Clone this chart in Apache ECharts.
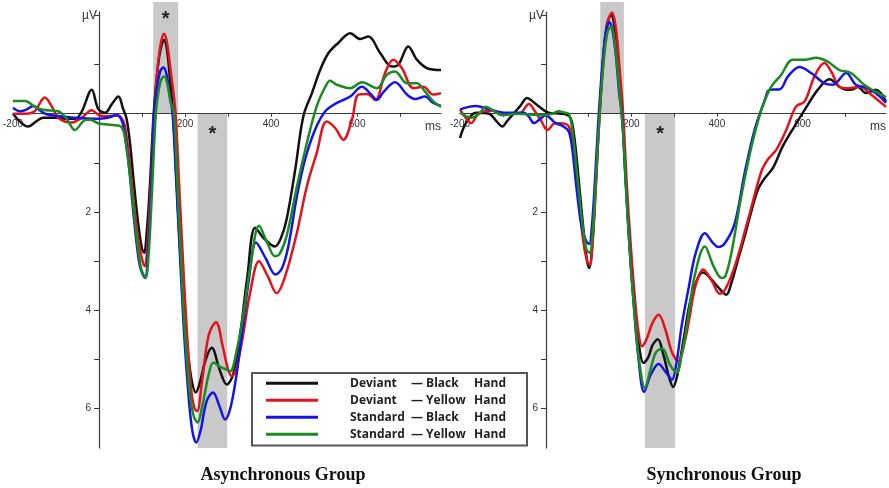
<!DOCTYPE html>
<html><head><meta charset="utf-8">
<script src="https://cdn.jsdelivr.net/npm/echarts@6/dist/echarts.min.js"></script>
<style>html,body{margin:0;padding:0;background:#fff}#c{width:889px;height:488px}</style>
</head><body><div id="c"></div>
<script>
// ---- data (ms, µV) ----
const seriesNames = ['Deviant — Black Hand', 'Deviant — Yellow Hand', 'Standard — Black Hand', 'Standard — Yellow Hand'];
const panelTitles = ['Asynchronous Group', 'Synchronous Group'];
const xTickValues = [-100, 0, 100, 200, 300, 400, 500, 600, 700];
const xLabelValues = [-200, 200, 400, 600];
const yTickValues = [-2, -1, 1, 2, 3, 4, 5, 6];
const yLabelValues = [2, 4, 6];

const asyncDevBlack = [[-200,0.0],[-185,0.15],[-165,0.26],[-145,0.15],[-130,0.08],[-100,0.08],[-75,0.1],[-55,0.1],[-40,-0.05],[-17,-0.49],[-2,-0.1],[14,-0.02],[30,-0.2],[45,-0.35],[56,-0.1],[64,0.1],[72,0.6],[82,1.5],[92,2.3],[100,2.75],[105,2.83],[111,2.4],[118,1.5],[127,0.0],[136,-0.9],[144,-1.35],[151,-1.5],[158,-1.3],[165,-0.7],[172,0.0],[180,1.3],[188,2.7],[198,4.0],[208,4.95],[216,5.45],[225,5.67],[235,5.45],[248,5.0],[262,4.76],[280,5.2],[297,5.51],[312,5.3],[328,4.5],[345,3.3],[363,2.32],[385,2.55],[409,2.7],[422,2.55],[436,2.15],[456,1.14],[475,0.05],[495,-0.42],[514,-0.89],[533,-1.23],[556,-1.44],[584,-1.64],[607,-1.52],[626,-1.57],[654,-1.23],[681,-0.96],[696,-1.0],[719,-1.37],[739,-1.1],[762,-0.93],[795,-0.89]];
const asyncDevYellow = [[-200,0.0],[-170,0.0],[-150,-0.05],[-126,-0.33],[-110,-0.15],[-95,0.08],[-64,0.18],[-40,0.08],[-17,-0.07],[0,0.03],[20,0.05],[41,0.03],[52,0.08],[60,0.25],[70,0.9],[82,1.9],[94,2.7],[106,3.1],[113,2.6],[120,1.5],[128,0.0],[137,-1.0],[144,-1.45],[151,-1.63],[158,-1.45],[166,-0.9],[172,-0.5],[178,0.0],[186,1.4],[194,2.8],[204,4.4],[214,5.6],[222,6.0],[228,6.05],[240,5.4],[255,4.5],[272,4.24],[288,4.75],[300,5.2],[309,5.34],[320,5.15],[335,4.5],[350,3.7],[372,3.0],[392,3.3],[413,3.65],[433,3.3],[460,2.42],[483,1.48],[506,0.8],[529,0.16],[549,0.29],[568,0.53],[588,0.12],[603,-0.39],[623,-0.4],[642,-0.28],[665,-0.83],[684,-1.1],[704,-0.93],[731,-0.52],[754,-0.55],[777,-0.39],[795,-0.42]];
const asyncStdBlack = [[-200,-0.12],[-184,-0.05],[-170,-0.08],[-153,-0.16],[-135,-0.05],[-122,0.01],[-100,0.04],[-57,0.08],[-2,0.1],[20,0.08],[41,0.03],[52,0.12],[60,0.4],[70,1.1],[82,2.2],[95,3.1],[107,3.34],[114,2.8],[121,1.6],[128,0.0],[136,-0.6],[143,-0.88],[150,-0.94],[157,-0.8],[164,-0.4],[171,0.0],[179,1.3],[186,2.5],[196,4.2],[206,5.5],[216,6.4],[226,6.69],[236,6.45],[250,5.85],[265,5.67],[280,5.95],[293,6.22],[305,6.0],[318,5.4],[332,4.5],[348,3.4],[365,2.62],[388,2.95],[410,3.27],[425,3.15],[440,2.7],[460,1.68],[479,0.93],[502,0.33],[526,-0.05],[553,-0.22],[584,-0.35],[611,-0.55],[632,-0.4],[646,-0.28],[662,-0.45],[688,-0.64],[716,-0.39],[735,-0.3],[758,-0.35],[777,-0.22],[795,-0.16]];
const asyncStdYellow = [[-200,-0.26],[-172,-0.26],[-150,-0.15],[-130,-0.08],[-95,-0.05],[-75,0.11],[-56,0.33],[-33,0.13],[-21,0.12],[0,0.2],[33,0.23],[53,0.28],[62,0.6],[74,1.4],[86,2.4],[98,3.15],[108,3.34],[115,2.9],[123,1.6],[132,0.0],[139,-0.5],[146,-0.72],[152,-0.76],[159,-0.6],[166,-0.25],[174,0.0],[181,1.2],[188,2.5],[198,4.2],[210,5.6],[220,6.15],[229,6.28],[240,5.95],[255,5.3],[266,5.06],[282,5.15],[295,5.2],[305,5.24],[318,4.9],[335,4.1],[352,3.1],[372,2.28],[390,2.6],[409,2.9],[420,2.85],[436,2.49],[460,1.48],[483,0.6],[506,-0.15],[526,-0.55],[537,-0.67],[553,-0.59],[584,-0.52],[611,-0.64],[646,-0.52],[669,-0.79],[688,-0.86],[716,-0.62],[739,-0.62],[758,-0.45],[777,-0.25],[795,-0.14]];

const syncDevBlack = [[-200,0.49],[-186,0.19],[-163,-0.02],[-132,0.0],[-115,0.15],[-101,0.26],[-90,0.15],[-78,0.03],[-60,-0.15],[-43,-0.32],[-30,-0.25],[-16,-0.15],[7,-0.02],[38,0.0],[55,0.05],[62,0.2],[70,0.7],[80,1.6],[90,2.5],[97,3.0],[102,3.14],[108,2.8],[115,1.8],[122,0.6],[128,-0.3],[136,-1.3],[144,-1.85],[153,-2.01],[162,-1.7],[170,-0.9],[179,0.0],[187,1.3],[195,2.5],[205,3.7],[215,4.5],[229,5.07],[240,4.95],[250,4.7],[262,4.59],[275,4.9],[288,5.35],[298,5.56],[308,5.3],[322,4.6],[338,3.8],[355,3.35],[368,3.23],[385,3.35],[405,3.55],[422,3.68],[434,3.44],[450,2.95],[465,2.49],[480,2.0],[496,1.54],[512,1.31],[531,1.1],[554,0.66],[581,0.26],[605,-0.08],[636,-0.49],[663,-0.7],[686,-0.55],[702,-0.49],[718,-0.5],[729,-0.55],[748,-0.42],[771,-0.49],[795,-0.25]];
const syncDevYellow = [[-200,-0.09],[-185,0.1],[-174,0.19],[-155,-0.02],[-124,-0.06],[-97,0.0],[-62,0.0],[-39,-0.2],[-25,-0.05],[-10,0.15],[4,0.33],[23,0.19],[50,0.22],[58,0.35],[66,0.8],[76,1.6],[88,2.6],[97,3.0],[103,3.07],[109,2.7],[116,1.7],[123,0.5],[130,-0.5],[138,-1.4],[146,-1.9],[155,-2.06],[164,-1.75],[172,-1.0],[181,0.0],[190,1.5],[199,2.7],[209,3.8],[217,4.45],[225,4.73],[235,4.6],[250,4.25],[264,4.09],[280,4.4],[295,4.85],[310,5.03],[322,4.75],[335,4.2],[350,3.5],[368,3.17],[388,3.4],[407,3.66],[419,3.58],[442,3.1],[473,2.15],[504,1.17],[519,0.93],[539,0.73],[562,0.33],[585,-0.15],[605,-0.25],[628,-0.76],[651,-1.03],[667,-0.86],[686,-0.55],[705,-0.52],[736,-0.55],[760,-0.39],[795,-0.14]];
const syncStdBlack = [[-200,-0.09],[-180,-0.14],[-163,-0.16],[-132,-0.09],[-93,-0.02],[-51,-0.02],[-40,0.05],[-27,0.19],[-12,0.1],[0,0.03],[12,0.1],[23,0.19],[40,0.25],[54,0.36],[62,0.7],[72,1.5],[84,2.3],[95,2.6],[102,2.65],[108,2.3],[115,1.4],[122,0.3],[129,-0.6],[137,-1.4],[143,-1.75],[149,-1.86],[156,-1.7],[164,-1.2],[172,-0.4],[178,0.0],[187,1.4],[196,2.7],[206,3.9],[216,4.9],[230,5.66],[246,5.3],[264,5.09],[280,5.25],[295,5.41],[305,5.1],[318,4.3],[335,3.5],[350,2.85],[372,2.43],[390,2.62],[403,2.71],[419,2.63],[442,2.22],[465,1.2],[488,0.33],[512,-0.28],[523,-0.49],[547,-0.5],[566,-0.76],[593,-0.95],[620,-0.83],[651,-0.62],[671,-0.59],[702,-0.83],[725,-0.59],[752,-0.52],[775,-0.39],[795,-0.22]];
const syncStdYellow = [[-200,-0.02],[-173,0.08],[-155,0.0],[-140,-0.14],[-120,-0.05],[-101,0.03],[-66,0.0],[-30,0.02],[0,0.03],[15,0.0],[31,-0.05],[45,-0.02],[54,0.0],[62,0.3],[72,1.1],[84,2.1],[95,2.75],[103,2.83],[110,2.4],[117,1.4],[124,0.3],[131,-0.6],[139,-1.35],[146,-1.7],[153,-1.77],[160,-1.55],[168,-0.9],[176,-0.1],[181,0.4],[189,1.7],[198,3.0],[208,4.1],[218,5.0],[232,5.58],[245,5.2],[258,4.85],[273,4.78],[290,5.1],[306,5.27],[318,4.9],[332,4.2],[348,3.3],[372,2.7],[392,3.1],[411,3.34],[420,3.3],[434,2.83],[457,1.68],[481,0.66],[504,-0.08],[527,-0.55],[550,-0.79],[577,-1.1],[605,-1.1],[632,-1.14],[659,-1.06],[686,-0.89],[713,-0.83],[744,-0.59],[771,-0.45],[795,-0.34]];

// significance windows: [from ms, to ms, marker]
const asyncWindows = [[126, 184, '*'], [229, 298, '*']];
const syncWindows = [[126, 181, ''], [230, 300, '*']];

// ---- chart ----
const panels = [
  { data: [asyncDevBlack, asyncDevYellow, asyncStdBlack, asyncStdYellow], windows: asyncWindows },
  { data: [syncDevBlack, syncDevYellow, syncStdBlack, syncStdYellow], windows: syncWindows }
];
const colors = ['#111111', '#e3121b', '#1414e8', '#1b8a23'];
const X_MIN = -200, X_MAX = 795;
const Y_MIN = -2.07, Y_MAX = 6.8, BAND_Y_MIN = -2.27, BAND_Y_MAX = 6.76;
const panelLeft = [13, 460];
const G_TOP = 12, G_W = 428, G_H = 436;
const axisColor = '#3a3a3a';
const labelFont = 'Liberation Sans';

// place each axis at the other axis's zero, from the scale
const zeroYOffset = G_H - (0 - Y_MIN) / (Y_MAX - Y_MIN) * G_H;
const zeroXOffset = (0 - X_MIN) / (X_MAX - X_MIN) * G_W;

const grid = [], xAxis = [], yAxis = [], series = [];
panelLeft.forEach(l => grid.push({ left: l, top: G_TOP, width: G_W, height: G_H }));
panelLeft.forEach(l => grid.push({ left: l, top: 2, width: G_W, height: 446 }));

for (let p = 0; p < 2; p++) {
  xAxis.push({
    type: 'value', gridIndex: p, min: X_MIN, max: X_MAX, z: 2,
    position: 'bottom', offset: -zeroYOffset,
    name: 'ms', nameLocation: 'end', nameGap: 0,
    nameTextStyle: { align: 'right', verticalAlign: 'top', padding: [7, 0, 0, 0], fontSize: 12, color: '#333', fontFamily: labelFont },
    axisLine: { onZero: false, lineStyle: { color: axisColor, width: 1.2 } },
    axisTick: { show: true, customValues: xTickValues, length: 3, lineStyle: { color: axisColor } },
    axisLabel: { customValues: xLabelValues, fontSize: 10, color: '#333', margin: 6, fontFamily: labelFont },
    splitLine: { show: false }
  });
  yAxis.push({
    type: 'value', gridIndex: p, min: Y_MIN, max: Y_MAX, inverse: true, z: 2,
    position: 'left', offset: -zeroXOffset,
    name: 'µV', nameLocation: 'start', nameGap: -4,
    nameTextStyle: { align: 'right', verticalAlign: 'middle', padding: [0, 2, 0, 0], fontSize: 12, color: '#333', fontFamily: labelFont },
    axisLine: { onZero: false, lineStyle: { color: axisColor, width: 1.2 } },
    axisTick: { show: true, customValues: yTickValues, length: 5, lineStyle: { color: axisColor } },
    axisLabel: { customValues: yLabelValues, fontSize: 10, color: '#333', margin: 8, fontFamily: labelFont },
    splitLine: { show: false }
  });
}
for (let p = 0; p < 2; p++) {
  xAxis.push({ type: 'value', gridIndex: 2 + p, min: X_MIN, max: X_MAX, show: false });
  yAxis.push({ type: 'value', gridIndex: 2 + p, min: BAND_Y_MIN, max: BAND_Y_MAX, inverse: true, show: false });
}

panels.forEach((panel, p) => {
  series.push({
    type: 'line', xAxisIndex: 2 + p, yAxisIndex: 2 + p, data: [], z: 1, silent: true,
    markArea: {
      silent: true,
      itemStyle: { color: '#c9c9c9', opacity: 1 },
      data: panel.windows.map((w, i) => [
        { name: w[2], xAxis: w[0], yAxis: i === 0 ? BAND_Y_MIN : 0,
          label: { show: !!w[2], position: 'insideTop', distance: i === 0 ? 7 : 10, fontSize: 20, fontWeight: 'bold', color: '#222', fontFamily: 'Liberation Sans' } },
        { xAxis: w[1], yAxis: i === 0 ? 0 : BAND_Y_MAX }
      ])
    }
  });
  panel.data.forEach((d, k) => {
    series.push({
      name: seriesNames[k], type: 'line', xAxisIndex: p, yAxisIndex: p, data: d,
      showSymbol: false, smooth: 0.35, z: 3 + k * 0.01, color: colors[k],
      lineStyle: { width: 2.5, color: colors[k] }
    });
  });
});

const chart = echarts.init(document.getElementById('c'));
chart.setOption({
  animation: false,
  backgroundColor: '#fff',
  grid, xAxis, yAxis, series,
  legend: {
    data: seriesNames, orient: 'vertical', left: 252, top: 373,
    icon: 'rect', itemWidth: 52, itemHeight: 3, itemGap: 0.5,
    padding: [2, 21, 3, 14], backgroundColor: '#fff', borderColor: '#555', borderWidth: 2,
    selectedMode: false,
    formatter: name => {
      const parts = name.split(' — ');
      const hand = parts[1].split(' ')[0];
      return '{s|}{a|' + parts[0] + '}{b|— ' + hand + '}{c|Hand}';
    },
    textStyle: {
      fontFamily: 'Open Sans', fontWeight: 'bold', fontSize: 12, color: '#222', lineHeight: 16.5,
      rich: {
        s: { width: 27 },
        a: { width: 61, fontFamily: 'Open Sans', fontWeight: 'bold', fontSize: 12, color: '#222' },
        b: { width: 61, fontFamily: 'Open Sans', fontWeight: 'bold', fontSize: 12, color: '#222' },
        c: { width: 34, align: 'right', fontFamily: 'Open Sans', fontWeight: 'bold', fontSize: 12, color: '#222' }
      }
    }
  },
  graphic: panelTitles.map((t, i) => ({
    type: 'text', x: i === 0 ? 283 : 724, y: 475, z: 10,
    style: { text: t, fill: '#111', font: 'bold 18px "Liberation Serif"', textAlign: 'center', textVerticalAlign: 'middle', align: 'center', verticalAlign: 'middle' }
  }))
});
</script></body></html>
